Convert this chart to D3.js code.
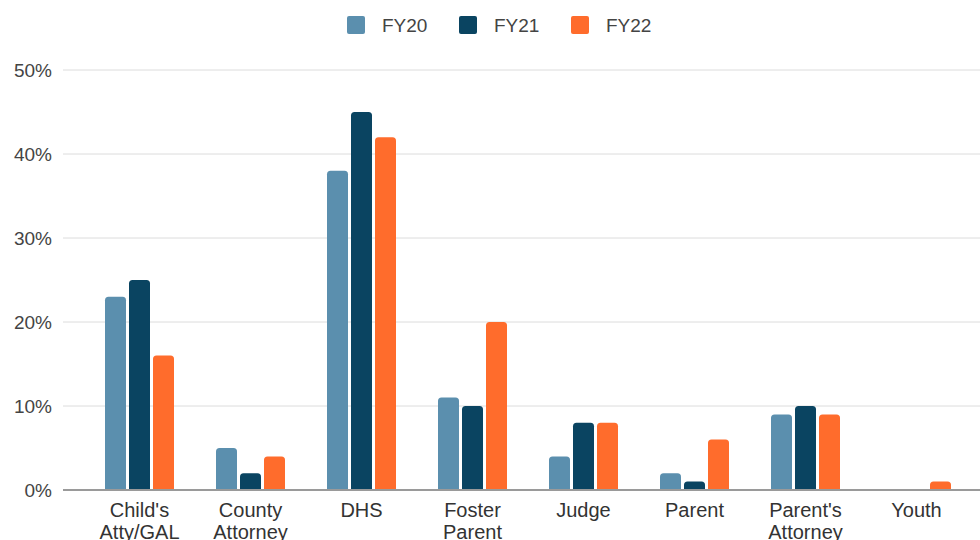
<!DOCTYPE html>
<html>
<head>
<meta charset="utf-8">
<script src="https://cdn.jsdelivr.net/npm/d3@7"></script>
<style>
  body { margin: 0; background: #fff; }
  text { font-family: "Liberation Sans", Arial, sans-serif; }
</style>
</head>
<body>
<script>
// data
var categories = ["Child's\nAtty/GAL", "County\nAttorney", "DHS", "Foster\nParent", "Judge", "Parent", "Parent's\nAttorney", "Youth"];
var series = ["FY20", "FY21", "FY22"];
var fy20 = [23, 5, 38, 11, 4, 2, 9, 0];
var fy21 = [25, 2, 45, 10, 8, 1, 10, 0];
var fy22 = [16, 4, 42, 20, 8, 6, 9, 1];
var yTicks = [0, 10, 20, 30, 40, 50];
var colors = ["#5b8fae", "#0a4461", "#ff6c2c"];

var width = 980, height = 540;
var values = [fy20, fy21, fy22];

var svg = d3.select("body").append("svg")
    .attr("width", width)
    .attr("height", height);

var x = d3.scaleBand().domain(categories).range([84, 972]).paddingInner(0).paddingOuter(0);
var x1 = d3.scaleBand().domain(series).range([0, x.bandwidth()]).paddingInner(0.125).paddingOuter(0.875);
var y = d3.scaleLinear().domain([0, 50]).range([490, 70]);

// gridlines
svg.append("g").selectAll("line")
    .data(yTicks.filter(function(d) { return d > 0; }))
    .enter().append("line")
    .attr("x1", 63).attr("x2", width)
    .attr("y1", function(d) { return y(d); })
    .attr("y2", function(d) { return y(d); })
    .attr("stroke", "#dcdcdc").attr("stroke-width", 1);

// y labels
svg.append("g").selectAll("text")
    .data(yTicks)
    .enter().append("text")
    .attr("x", 52)
    .attr("y", function(d) { return y(d) + 6.5; })
    .attr("text-anchor", "end")
    .attr("font-size", 19)
    .attr("fill", "#444")
    .text(function(d) { return d + "%"; });

// bars with rounded tops
function barPath(x0, w, v) {
  var yt = y(v), yb = y(0), r = Math.min(3.5, (yb - yt) / 2, w / 2);
  return "M" + x0 + "," + yb + "V" + (yt + r) +
    "Q" + x0 + "," + yt + " " + (x0 + r) + "," + yt +
    "H" + (x0 + w - r) +
    "Q" + (x0 + w) + "," + yt + " " + (x0 + w) + "," + (yt + r) +
    "V" + yb + "Z";
}

series.forEach(function(s, i) {
  svg.append("g").selectAll("path")
    .data(values[i].map(function(v, j) { return { cat: categories[j], v: v }; }).filter(function(d) { return d.v > 0; }))
    .enter().append("path")
    .attr("fill", colors[i])
    .attr("d", function(d) { return barPath(x(d.cat) + x1(s), x1.bandwidth(), d.v); });
});

// baseline
svg.append("line")
    .attr("x1", 63).attr("x2", width)
    .attr("y1", y(0)).attr("y2", y(0))
    .attr("stroke", "#9a9a9a").attr("stroke-width", 2);

// category labels
var lab = svg.append("g").selectAll("text")
    .data(categories)
    .enter().append("text")
    .attr("text-anchor", "middle")
    .attr("font-size", 20)
    .attr("fill", "#333")
    .attr("transform", function(d) { return "translate(" + (x(d) + x.bandwidth() / 2) + ",517)"; });
lab.selectAll("tspan")
    .data(function(d) { return d.split("\n"); })
    .enter().append("tspan")
    .attr("x", 0)
    .attr("dy", function(d, i) { return i === 0 ? 0 : 22; })
    .text(function(d) { return d; });

// legend
var legX = [347, 459, 571];
var leg = svg.append("g").selectAll("g")
    .data(series)
    .enter().append("g")
    .attr("transform", function(d, i) { return "translate(" + legX[i] + ",16)"; });
leg.append("rect")
    .attr("width", 18).attr("height", 18).attr("rx", 2)
    .attr("fill", function(d, i) { return colors[i]; });
leg.append("text")
    .attr("x", 35).attr("y", 16)
    .attr("font-size", 19)
    .attr("fill", "#444")
    .text(function(d) { return d; });
</script>
</body>
</html>
